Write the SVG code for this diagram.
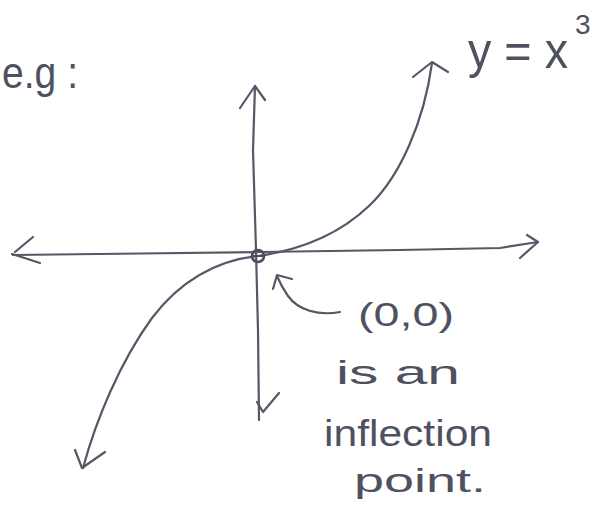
<svg xmlns="http://www.w3.org/2000/svg" width="592" height="511" viewBox="0 0 592 511">
<style>
.ink{fill:none;stroke:#555866;stroke-width:2.2;stroke-linecap:round;stroke-linejoin:round}
.txt{font-family:"Liberation Sans","DejaVu Sans",sans-serif;fill:#4e5160;font-weight:normal}
</style>
<rect width="592" height="511" fill="#ffffff"/>
<g id="connectors">
<g id="x-axis">
<path class="ink" d="M13,255 L140,253.5 L260,252 L400,250 L500,248 L538,242"/>
<path class="ink" d="M33,237 L15,252 M12,254 L40,263"/>
<path class="ink" d="M527,235 L538,242 L520,258"/>
</g>
<g id="y-axis">
<path class="ink" d="M255,86 L253,150 L256,250 L258,330 L259,420"/>
<path class="ink" d="M240,108 L255,86 L265,100"/>
<path class="ink" d="M257,402 L263,412 L279,393"/>
</g>
<g id="cubic-curve">
<path class="ink" d="M258,256 C300,250 340,234 370,205 C400,176 424,122 432,63"/>
<path class="ink" d="M413,77 L432,62 L448,72"/>
<path class="ink" d="M258,256 C212,261 178,284 152,318 C120,362 96,420 83,468"/>
<path class="ink" d="M75,450 L82,468 L105,452"/>
</g>
<g id="pointer">
<path class="ink" d="M340,312 C318,316 298,310 288,296 C283,289 280,283 277,276"/>
<path class="ink" d="M292,279 L277,275 L273,289"/>
</g>
</g>
<g id="origin">
<circle cx="258" cy="256" r="6" fill="none" stroke="#4a4d5a" stroke-width="2.6"/>
<line x1="252" y1="256" x2="264" y2="256" stroke="#4a4d5a" stroke-width="2"/>
</g>
<g id="label-eg">
<text class="txt" x="2" y="88" font-size="44" textLength="76" lengthAdjust="spacingAndGlyphs">e.g :</text>
</g>
<g id="label-function">
<text class="txt" x="468" y="68" font-size="50" textLength="100" lengthAdjust="spacingAndGlyphs">y = x</text>
<text class="txt" x="575" y="34" font-size="28">3</text>
</g>
<g id="label-inflection">
<text class="txt" x="358" y="326" font-size="34" textLength="96" lengthAdjust="spacingAndGlyphs">(0,0)</text>
<text class="txt" x="336" y="384" font-size="34" textLength="124" lengthAdjust="spacingAndGlyphs">is an</text>
<text class="txt" x="324" y="446" font-size="36" textLength="168" lengthAdjust="spacingAndGlyphs">inflection</text>
<text class="txt" x="354" y="492" font-size="34" textLength="132" lengthAdjust="spacingAndGlyphs">point.</text>
</g>
</svg>
